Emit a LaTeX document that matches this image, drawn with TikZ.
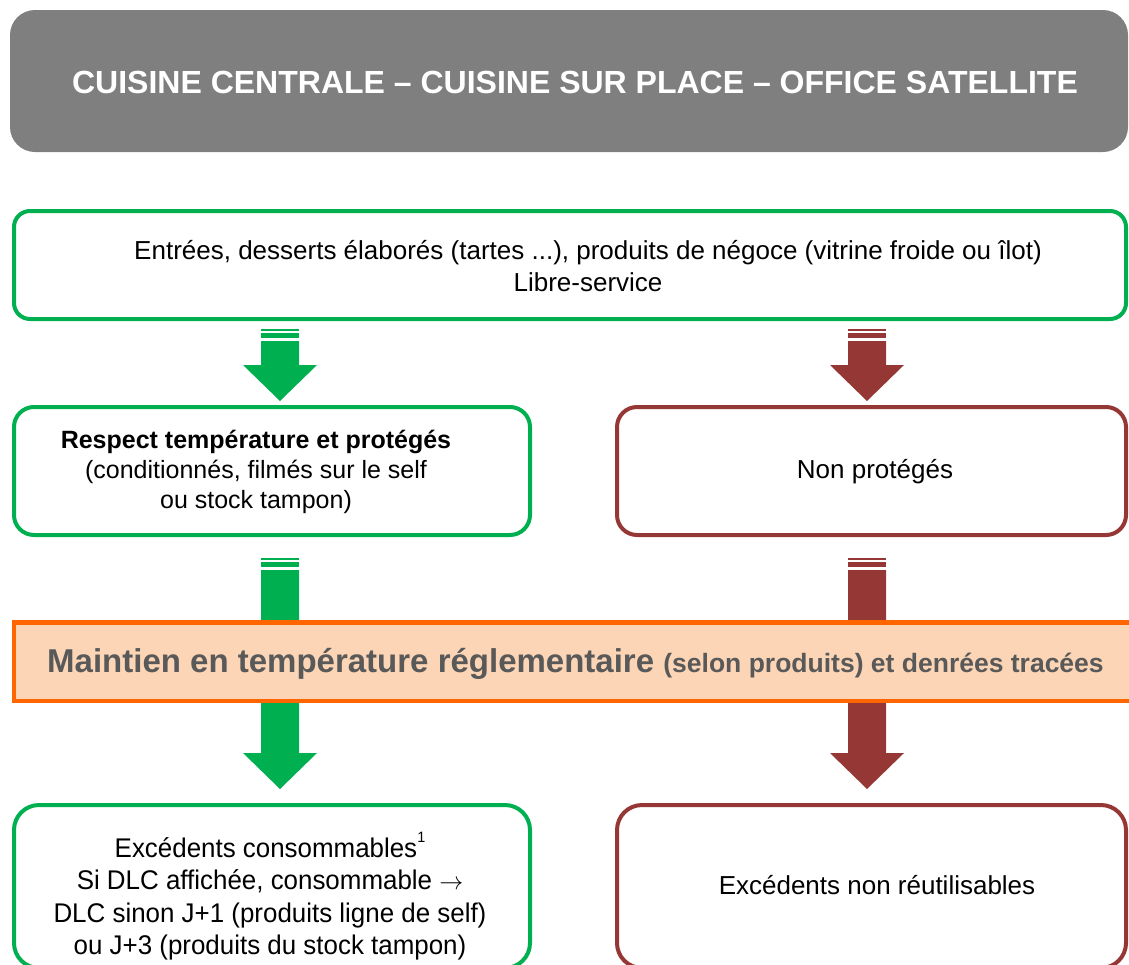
\documentclass[tikz,border=0pt]{standalone}
\usepackage{fontspec}
\setmainfont{Liberation Sans}
\definecolor{ggreen}{HTML}{00B050}
\definecolor{rred}{HTML}{953735}
\definecolor{ggray}{HTML}{7F7F7F}
\definecolor{oorange}{HTML}{FF6600}
\definecolor{ofill}{HTML}{FBD5B5}
\definecolor{tgray}{HTML}{595959}
\newcommand{\blkarrow}[5]{%
  \fill[#1] ({#2-19},{#3}) rectangle ({#2+19},{#3+2});
  \fill[#1] ({#2-19},{#3+4}) rectangle ({#2+19},{#3+9});
  \fill[#1] ({#2-19},{#3+12}) -- ({#2+19},{#3+12}) -- ({#2+19},{#4}) -- ({#2+37},{#4})
     -- ({#2},{#5}) -- ({#2-37},{#4}) -- ({#2-19},{#4}) -- cycle;}
\tikzset{
  gbox/.style={draw=ggreen, line width=4pt, rounded corners=#1, fill=white},
  rbox/.style={draw=rred, line width=4pt, rounded corners=#1, fill=white},
  txt/.style={align=center, font=\fontsize{26}{32}\selectfont, text=black},
}
\begin{document}
\begin{tikzpicture}[x=1pt,y=-1pt]
\useasboundingbox (0,0) rectangle (1129,964);
\clip (0,0) rectangle (1129,964);
% title
\fill[ggray, rounded corners=25] (10,10) rectangle (1128,152);
\node[text=white, font=\fontsize{32}{38}\selectfont\bfseries] (title) at (575,82)
  {CUISINE CENTRALE – CUISINE SUR PLACE – OFFICE SATELLITE};
% top box
\draw[gbox=16] (14,211) rectangle (1126,319);
\node[txt] (top) at (588,266) {Entrées, desserts élaborés (tartes ...), produits de négoce (vitrine froide ou îlot)\\Libre-service};
% arrows 1
\blkarrow{ggreen}{280}{329}{365}{401}
\blkarrow{rred}{867}{329}{365}{401}
% boxes 2
\draw[gbox=20] (14,407) rectangle (530,535);
\node[txt, font=\fontsize{25}{30}\selectfont] (resp) at (256,472) {\textbf{Respect température et protégés}\\(conditionnés, filmés sur le self\\ou stock tampon)};
\draw[rbox=20] (617,407) rectangle (1126,535);
\node[txt] (nonp) at (875,472) {Non protégés};
% middle arrows
\blkarrow{ggreen}{280}{558}{753}{789}
\blkarrow{rred}{867}{558}{753}{789}
% band
\draw[draw=oorange, fill=ofill, line width=4.5pt] (14,622.5) rectangle (1140,701);
\node[anchor=west, text=tgray, inner sep=0pt] (band) at (47,664)
  {\fontsize{33}{38}\selectfont\bfseries Maintien en température réglementaire {\fontsize{26.5}{30}\selectfont(selon produits) et denrées tracées}};
% bottom boxes
\draw[gbox=25] (14,805) rectangle (530,968);
\node[txt, font=\fontsize{27}{32.5}\selectfont] (exc) at (270,896) {\scalebox{0.96}[1]{Excédents consommables\raisebox{0.55em}{\fontsize{15}{15}\selectfont 1}}\\\scalebox{0.96}[1]{Si DLC affichée, consommable $\rightarrow$}\\\scalebox{0.96}[1]{DLC sinon J+1 (produits ligne de self)}\\\scalebox{0.96}[1]{ou J+3 (produits du stock tampon)}};
\draw[rbox=25] (617,805) rectangle (1126,968);
\node[txt] (excn) at (877,885) {Excédents non réutilisables};
\end{tikzpicture}
\end{document}
